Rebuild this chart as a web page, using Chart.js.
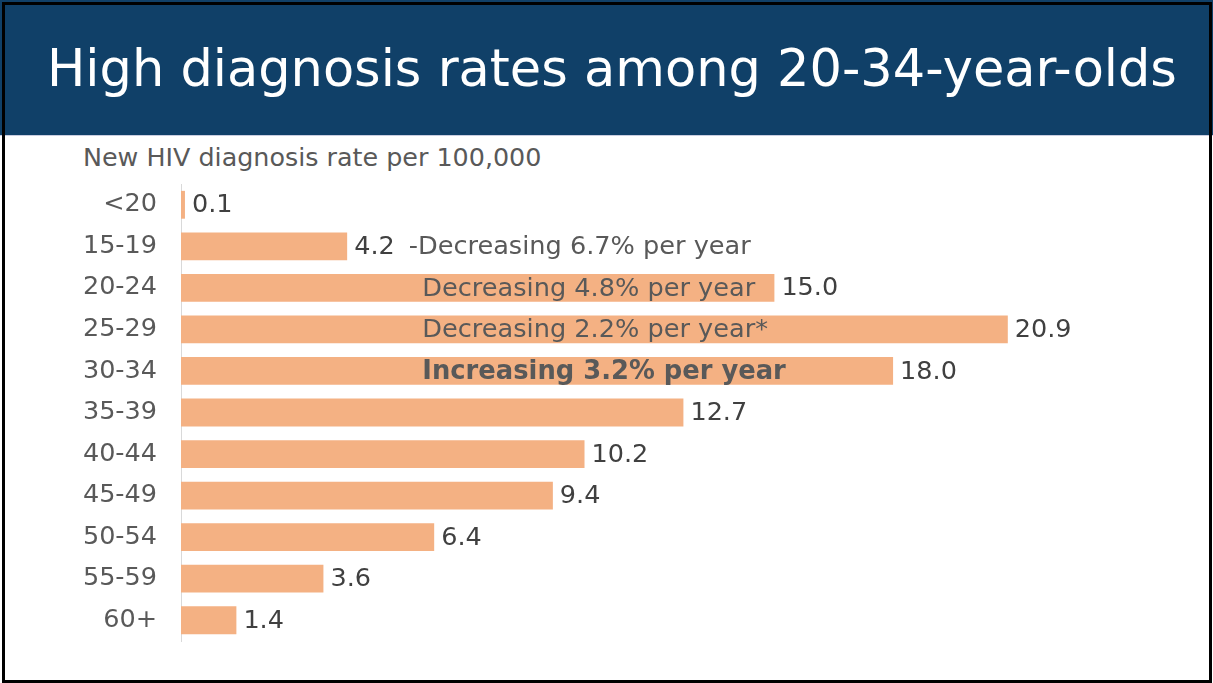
<!DOCTYPE html>
<html>
<head>
<meta charset="utf-8">
<script src="https://cdn.jsdelivr.net/npm/chart.js@4"></script>
<style>
  body { margin: 0; background: #fff; }
  #page { position: relative; width: 1213px; height: 683px; overflow: hidden; font-family: "DejaVu Sans", Verdana, sans-serif; }
  #header { position: absolute; left: 0; top: 0; width: 1213px; height: 135px; background: #104068; border-bottom: 1px solid #c9cde0; }
  #header h1 { position: absolute; left: 47px; top: 43px; margin: 0; font-size: 51px; line-height: 51px; font-weight: normal; color: #fff; white-space: nowrap; }
  #subtitle { position: absolute; left: 83px; top: 145px; font-size: 25.4px; line-height: 25px; color: #595959; white-space: nowrap; }
  #wrap { position: absolute; left: 0; top: 135px; width: 1213px; height: 548px; }
  #frame { position: absolute; left: 2px; top: 2px; width: 1210px; height: 681px; border: 3px solid #000; box-sizing: border-box; pointer-events: none; }
</style>
</head>
<body>
<div id="page">
  <div id="header"><h1>High diagnosis rates among 20-34-year-olds</h1></div>
  <div id="subtitle">New HIV diagnosis rate per 100,000</div>
  <div id="wrap"><canvas id="bars"></canvas></div>
  <div id="frame"></div>
</div>
<script>
let ageGroups = ["<20", "15-19", "20-24", "25-29", "30-34", "35-39", "40-44", "45-49", "50-54", "55-59", "60+"];
let rates = [0.1, 4.2, 15.0, 20.9, 18.0, 12.7, 10.2, 9.4, 6.4, 3.6, 1.4];
let trendNotes = ["", "-Decreasing 6.7% per year", "Decreasing 4.8% per year", "Decreasing 2.2% per year*", "Increasing 3.2% per year", "", "", "", "", "", ""];
let boldNotes = [false, false, false, false, true, false, false, false, false, false, false];

const FONT = '"DejaVu Sans", Verdana, sans-serif';

// value after each bar, trend note inside the bar when it fits, else after the value
const barLabels = {
  id: "barLabels",
  afterDatasetsDraw(chart, args, opts) {
    let ctx = chart.ctx;
    let xs = chart.scales.x;
    let noteX = xs.getPixelForValue(opts.noteStart);
    ctx.save();
    ctx.textBaseline = "middle";
    ctx.textAlign = "left";
    chart.getDatasetMeta(0).data.forEach((bar, i) => {
      ctx.font = `25.5px ${FONT}`;
      ctx.fillStyle = "#404040";
      let txt = rates[i].toFixed(1);
      ctx.fillText(txt, bar.x + 7, bar.y + 1);
      let endOfValue = bar.x + 7 + ctx.measureText(txt).width;

      if (!trendNotes[i]) return;
      ctx.font = boldNotes[i] ? `bold 25.8px ${FONT}` : `25.6px ${FONT}`;
      ctx.fillStyle = "#595959";
      let w = ctx.measureText(trendNotes[i]).width;
      let x = noteX + w < bar.x ? noteX : endOfValue + 14;
      ctx.fillText(trendNotes[i], x, bar.y + 1);
    });
    ctx.restore();
  },
};

linesChart = new Chart(document.getElementById("bars"), {
  type: "bar",
  data: {
    labels: ageGroups,
    datasets: [
      {
        data: rates,
        backgroundColor: "#f4b183",
        barPercentage: 0.67,
        categoryPercentage: 1,
      },
    ],
  },
  options: {
    indexAxis: "y",
    responsive: true,
    maintainAspectRatio: false,
    animation: false,
    layout: {
      padding: { top: 49, bottom: 42, left: 0, right: 43 },
    },
    scales: {
      x: { display: false, min: 0, max: 25 },
      y: {
        afterFit: (s) => { s.width = 181; },
        grid: { display: false, drawTicks: false },
        border: { display: true, color: "#d9d9d9", width: 1 },
        ticks: { padding: 24, color: "#595959", font: { family: FONT, size: 25.5 } },
      },
    },
    plugins: {
      legend: { display: false },
      tooltip: { enabled: false },
      barLabels: { noteStart: 6.1 },
    },
  },
  plugins: [barLabels],
});
</script>
</body>
</html>
